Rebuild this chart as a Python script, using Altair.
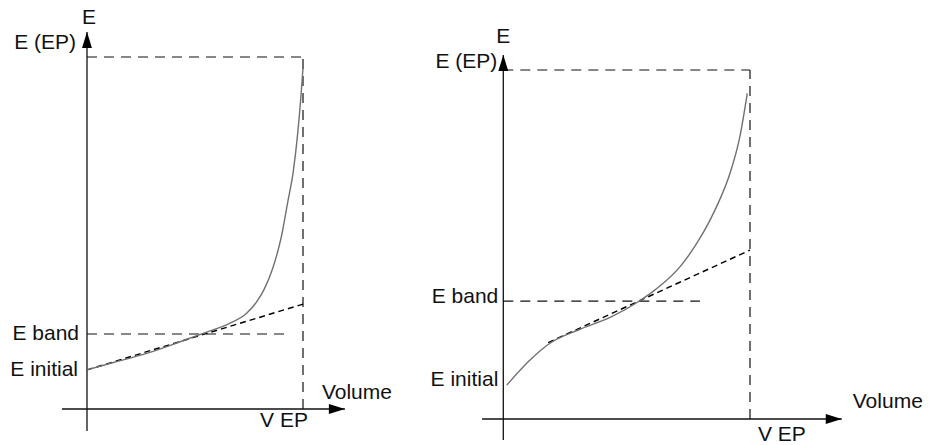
import altair as alt
import pandas as pd

FONT = "Liberation Sans"
INK = "#111111"

# ---------------- Left panel (Volume in units of V EP, E in units of E(EP)) -------------
L_curve_v = [0.0, 0.122, 0.276, 0.431, 0.538, 0.662, 0.739, 0.786, 0.820, 0.860, 0.900, 0.930, 0.955, 0.975, 0.990, 1.001]
L_curve_e = [0.111, 0.132, 0.158, 0.191, 0.215, 0.244, 0.272, 0.305, 0.340, 0.400, 0.490, 0.590, 0.675, 0.780, 0.885, 0.977]
L_tangent_v = [0.0, 1.0]
L_tangent_e = [0.111, 0.298]
L_e_band = 0.213
L_e_band_end = 0.917
L_e_initial = 0.111
L_x_axis = [-0.116, 1.194]
L_y_axis = [-0.0625, 1.071]

# ---------------- Right panel -------------
R_curve_v = [0.014, 0.101, 0.189, 0.304, 0.439, 0.547, 0.615, 0.716, 0.784, 0.838, 0.872, 0.919, 0.959, 0.989]
R_curve_e = [0.097, 0.164, 0.217, 0.255, 0.293, 0.336, 0.370, 0.436, 0.503, 0.570, 0.620, 0.704, 0.809, 0.933]
R_tangent_v = [0.182, 1.0]
R_tangent_e = [0.219, 0.484]
R_e_band = 0.338
R_e_band_end = 0.797
R_e_initial = 0.112
R_x_axis = [-0.086, 1.372]
R_y_axis = [-0.060, 1.043]

LABELS = ["E", "E (EP)", "E band", "E initial", "Volume", "V EP"]


def panel(curve_v, curve_e, tan_v, tan_e, e_band, e_band_end, e_init,
          x_axis, y_axis, vdom, edom, width, height, offs):
    xs = alt.Scale(domain=vdom, nice=False, zero=False)
    ys = alt.Scale(domain=edom, nice=False, zero=False)

    def X(f):
        return alt.X(f, type="quantitative", scale=xs, axis=None)

    def Y(f):
        return alt.Y(f, type="quantitative", scale=ys, axis=None)

    axes = pd.DataFrame({
        "x": [x_axis[0], 0.0], "x2": [x_axis[1], 0.0],
        "y": [0.0, y_axis[0]], "y2": [0.0, y_axis[1]],
    })
    guides = pd.DataFrame({
        "x": [0.0, 1.0, 0.0], "x2": [1.0, 1.0, e_band_end],
        "y": [1.0, 0.0, e_band], "y2": [1.0, 1.0, e_band],
    })
    curve = pd.DataFrame({"v": curve_v, "e": curve_e})
    tangent = pd.DataFrame({"v": tan_v, "e": tan_e})

    layers = []
    layers.append(alt.Chart(guides).mark_rule(color=INK, strokeWidth=1.2, strokeDash=[10, 7]).encode(
        x=X("x"), x2="x2", y=Y("y"), y2="y2"))
    layers.append(alt.Chart(axes).mark_rule(color=INK, strokeWidth=1.3).encode(
        x=X("x"), x2="x2", y=Y("y"), y2="y2"))
    layers.append(alt.Chart(tangent).mark_line(color="#000000", strokeWidth=1.4, strokeDash=[6, 4]).encode(
        x=X("v"), y=Y("e")))
    layers.append(alt.Chart(curve).mark_line(color="#707070", strokeWidth=1.4, interpolate="monotone").encode(
        x=X("v"), y=Y("e")))

    up = pd.DataFrame({"v": [0.0], "e": [y_axis[1]]})
    right = pd.DataFrame({"v": [x_axis[1]], "e": [0.0]})
    layers.append(alt.Chart(up).mark_point(shape="M0,0 L0.62,2 L-0.62,2 Z", size=256, filled=True,
                                           color="#000000", opacity=1).encode(x=X("v"), y=Y("e")))
    layers.append(alt.Chart(right).mark_point(shape="M0,0 L-2,-0.62 L-2,0.62 Z", size=256, filled=True,
                                              color="#000000", opacity=1).encode(x=X("v"), y=Y("e")))

    anchors = {
        "E": (0.0, y_axis[1]),
        "E (EP)": (0.0, 1.0),
        "E band": (0.0, e_band),
        "E initial": (0.0, e_init),
        "Volume": (x_axis[1], 0.0),
        "V EP": (1.0, 0.0),
    }
    for lab in LABELS:
        v, e = anchors[lab]
        align, dx, dy = offs[lab]
        layers.append(alt.Chart(pd.DataFrame({"v": [v], "e": [e], "t": [lab]})).mark_text(
            font=FONT, fontSize=21, color="#111111", align=align, baseline="middle", dx=dx, dy=dy
        ).encode(x=X("v"), y=Y("e"), text="t:N"))

    return alt.layer(*layers).properties(width=width, height=height)


left = panel(L_curve_v, L_curve_e, L_tangent_v, L_tangent_e, L_e_band, L_e_band_end, L_e_initial,
             L_x_axis, L_y_axis, [-0.40278, 1.63426], [-0.10227, 1.16193], 440, 445,
             {"E": ("center", 2, -14), "E (EP)": ("right", -11, -14), "E band": ("right", -8, 0),
              "E initial": ("right", -9, 0), "Volume": ("left", -23, -16), "V EP": ("center", -19, 12)})

right = panel(R_curve_v, R_curve_e, R_tangent_v, R_tangent_e, R_e_band, R_e_band_end, R_e_initial,
              R_x_axis, R_y_axis, [-0.2566, 1.7459], [-0.0745, 1.2006], 494, 445,
              {"E": ("center", 0, -18), "E (EP)": ("right", -6, -8), "E band": ("right", -5, -4),
               "E initial": ("right", -5, 0), "Volume": ("left", 11, -17), "V EP": ("left", 8, 16)})

chart = alt.hconcat(left, right, spacing=0, bounds="flush").properties(
    padding=0, background="white"
).configure_view(stroke=None)

chart.save("out.html", embed_options={"renderer": "svg", "actions": False})
